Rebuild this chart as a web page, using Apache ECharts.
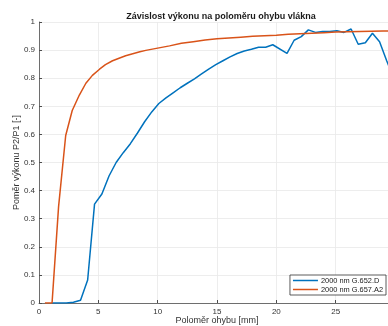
<!DOCTYPE html>
<html>
<head>
<meta charset="utf-8">
<style>
  html, body { margin: 0; padding: 0; background: #fff; }
  #chart { width: 388px; height: 326px; }
</style>
<script src="https://cdn.jsdelivr.net/npm/echarts@6/dist/echarts.min.js"></script>
</head>
<body>
<div id="chart"></div>
<script>
// Bend radius [mm] and power ratio P2/P1 for each fibre
const radiusG657 = [0.5, 1.1, 1.65, 2.25, 2.8, 3.4, 3.95, 4.5, 5.1, 5.6, 6.2, 6.8, 7.3, 7.9, 8.5, 9, 10, 11, 12, 13, 14, 15, 16, 17, 18, 19, 20, 21, 22, 23, 24, 25, 26, 27, 28, 29, 30];
const ratioG657 = [0, 0, 0.343, 0.596, 0.685, 0.74, 0.782, 0.81, 0.832, 0.848, 0.862, 0.872, 0.88, 0.887, 0.894, 0.899, 0.907, 0.915, 0.924, 0.93, 0.936, 0.94, 0.943, 0.946, 0.949, 0.951, 0.953, 0.956, 0.958, 0.96, 0.962, 0.964, 0.965, 0.966, 0.967, 0.968, 0.969];

const radiusG652 = [1.1, 2.3, 2.9, 3.5, 4.1, 4.68, 5.3, 5.9, 6.5, 7.1, 7.7, 8.3, 8.9, 9.5, 10.1, 10.7, 11.3, 11.9, 12.5, 13.1, 13.7, 14.3, 14.9, 15.5, 16.1, 16.7, 17.3, 17.9, 18.5, 19.1, 19.7, 20.9, 21.5, 22.1, 22.7, 23.3, 23.9, 24.5, 25.1, 25.7, 26.3, 26.9, 27.5, 28.1, 28.7, 29.3, 29.9];
const ratioG652 = [0, 0, 0.003, 0.01, 0.082, 0.352, 0.388, 0.452, 0.5, 0.535, 0.567, 0.605, 0.645, 0.68, 0.71, 0.73, 0.748, 0.766, 0.782, 0.798, 0.815, 0.832, 0.848, 0.862, 0.876, 0.888, 0.897, 0.903, 0.91, 0.91, 0.919, 0.888, 0.935, 0.948, 0.972, 0.963, 0.966, 0.966, 0.969, 0.963, 0.975, 0.921, 0.926, 0.96, 0.93, 0.862, 0.8];

const xTicks = [0, 5, 10, 15, 20, 25, 30];
const yTicks = [0, 0.1, 0.2, 0.3, 0.4, 0.5, 0.6, 0.7, 0.8, 0.9, 1];

const seriesNames = ['2000 nm G.652.D', '2000 nm G.657.A2'];
const seriesColors = ['#0072BD', '#D95319'];

const zip = (xs, ys) => xs.map((x, i) => [x, ys[i]]);

const FONT = '"Liberation Sans", Arial, Helvetica, sans-serif';
const AXIS_COLOR = '#4d4d4d';
const TEXT_COLOR = '#333333';

const chart = echarts.init(document.getElementById('chart'), null, { renderer: 'canvas' });

chart.setOption({
  animation: false,
  backgroundColor: '#ffffff',
  title: {
    text: 'Závislost výkonu na poloměru ohybu vlákna',
    left: 216,
    textAlign: 'center',
    top: 7,
    textStyle: { fontFamily: FONT, fontSize: 9, fontWeight: 'bold', color: '#1a1a1a' }
  },
  grid: { left: 39, right: -7, top: 22, bottom: 23, containLabel: false, outerBoundsMode: 'none' },
  legend: {
    orient: 'vertical',
    right: 2,
    top: 275,
    data: seriesNames,
    icon: 'rect',
    itemWidth: 25,
    itemHeight: 1.5,
    itemGap: 2,
    padding: [2, 3, 2, 3],
    borderColor: '#333',
    borderWidth: 0.8,
    backgroundColor: '#fff',
    textStyle: { fontFamily: FONT, fontSize: 7.4, color: '#1a1a1a', padding: [0, 0, 0, -2] }
  },
  xAxis: {
    type: 'value',
    min: xTicks[0],
    max: xTicks[xTicks.length - 1],
    interval: 5,
    name: 'Poloměr ohybu [mm]',
    nameLocation: 'middle',
    nameGap: 13,
    nameMoveOverlap: false,
    nameTextStyle: { fontFamily: FONT, fontSize: 9, color: TEXT_COLOR },
    axisLine: { show: true, onZero: false, lineStyle: { color: AXIS_COLOR, width: 0.8 } },
    axisTick: { show: true, inside: true, length: 3, lineStyle: { color: AXIS_COLOR } },
    axisLabel: { fontFamily: FONT, fontSize: 8, color: TEXT_COLOR, margin: 5 },
    splitLine: { show: true, lineStyle: { color: '#e8e8e8', width: 0.8 } }
  },
  yAxis: {
    type: 'value',
    min: yTicks[0],
    max: yTicks[yTicks.length - 1],
    interval: 0.1,
    name: 'Poměr výkonu P2/P1 [-]',
    nameLocation: 'middle',
    nameGap: 18,
    nameMoveOverlap: false,
    nameTextStyle: { fontFamily: FONT, fontSize: 9, color: TEXT_COLOR },
    axisLine: { show: true, onZero: false, lineStyle: { color: AXIS_COLOR, width: 0.8 } },
    axisTick: { show: true, inside: true, length: 3, lineStyle: { color: AXIS_COLOR } },
    axisLabel: {
      fontFamily: FONT, fontSize: 8, color: TEXT_COLOR, margin: 4,
      formatter: v => String(Math.round(v * 10) / 10)
    },
    splitLine: { show: true, lineStyle: { color: '#e8e8e8', width: 0.8 } }
  },
  series: [
    {
      name: seriesNames[0],
      type: 'line',
      data: zip(radiusG652, ratioG652),
      showSymbol: false,
      symbol: 'none',
      lineStyle: { color: seriesColors[0], width: 1.5 },
      itemStyle: { color: seriesColors[0] },
      z: 3
    },
    {
      name: seriesNames[1],
      type: 'line',
      data: zip(radiusG657, ratioG657),
      showSymbol: false,
      symbol: 'none',
      lineStyle: { color: seriesColors[1], width: 1.5 },
      itemStyle: { color: seriesColors[1] },
      z: 4
    }
  ]
});
</script>
</body>
</html>
